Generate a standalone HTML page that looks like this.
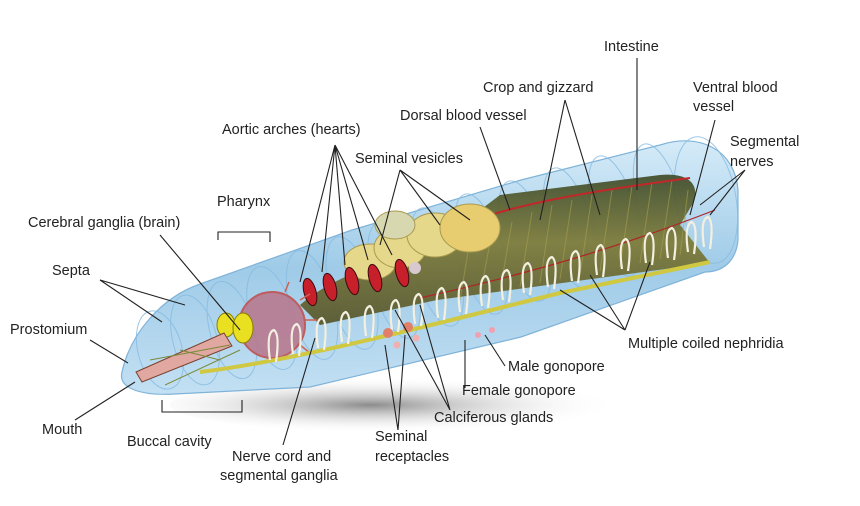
<!DOCTYPE html>
<html><head><meta charset="utf-8"><style>
html,body{margin:0;padding:0;background:#fff;}
svg{display:block;}
text{font-family:"Liberation Sans","DejaVu Sans",sans-serif;font-size:14.5px;fill:#222;}
</style></head><body>
<svg width="860" height="506" viewBox="0 0 860 506" xmlns="http://www.w3.org/2000/svg">
<defs>
<radialGradient id="sh" cx="40%" cy="50%" r="50%"><stop offset="0" stop-color="#777" stop-opacity="0.85"/><stop offset="1" stop-color="#fff" stop-opacity="0"/></radialGradient>
<linearGradient id="bd" x1="0" y1="0" x2="0" y2="1"><stop offset="0" stop-color="#d5ebf8"/><stop offset="0.5" stop-color="#9fcbe8"/><stop offset="1" stop-color="#c3e0f3"/></linearGradient>
<linearGradient id="gut" x1="0" y1="0" x2="0" y2="1"><stop offset="0" stop-color="#3e4a28"/><stop offset="0.45" stop-color="#7d7a36"/><stop offset="1" stop-color="#56552a"/></linearGradient>
</defs>
<ellipse cx="420" cy="405" rx="250" ry="28" fill="url(#sh)"/>
<!-- body -->
<path d="M122,372 C130,335 160,298 200,284 L352,230 L521,180 L660,145 C700,132 735,150 738,190 L738,240 C736,262 722,272 705,272 L521,337 L310,387 L175,394 C140,396 118,388 122,372 Z" fill="url(#bd)" stroke="#7fb3d8" stroke-width="1.2"/>
<g fill="none" stroke="#86bbe0" stroke-width="1" opacity="0.8">
<ellipse cx="160" cy="350" rx="22" ry="40" transform="rotate(-15 160 350)"/>
<ellipse cx="195" cy="340" rx="22" ry="46" transform="rotate(-15 195 340)"/>
<ellipse cx="232" cy="330" rx="22" ry="50" transform="rotate(-15 232 330)"/>
<ellipse cx="272" cy="318" rx="22" ry="53" transform="rotate(-15 272 318)"/>
<ellipse cx="312" cy="305" rx="22" ry="56" transform="rotate(-15 312 305)"/>
<ellipse cx="352" cy="293" rx="22" ry="58" transform="rotate(-15 352 293)"/>
<ellipse cx="394" cy="280" rx="22" ry="60" transform="rotate(-15 394 280)"/>
<ellipse cx="437" cy="267" rx="22" ry="61" transform="rotate(-15 437 267)"/>
<ellipse cx="481" cy="254" rx="22" ry="62" transform="rotate(-15 481 254)"/>
<ellipse cx="525" cy="241" rx="22" ry="62" transform="rotate(-15 525 241)"/>
<ellipse cx="570" cy="228" rx="22" ry="62" transform="rotate(-15 570 228)"/>
<ellipse cx="615" cy="216" rx="22" ry="62" transform="rotate(-15 615 216)"/>
<ellipse cx="660" cy="204" rx="22" ry="62" transform="rotate(-15 660 204)"/>
<ellipse cx="706" cy="200" rx="30" ry="64" transform="rotate(-10 706 200)"/>
</g>
<!-- gut -->
<path d="M300,305 C330,278 380,262 430,248 L500,195 L660,175 C695,172 700,190 692,205 L680,225 L710,263 L437,300 L320,325 Z" fill="url(#gut)" opacity="0.92"/>
<g stroke="#a8a050" stroke-width="1" opacity="0.6">
<path d="M460,300 L470,240 M480,295 L492,232 M500,291 L512,222 M520,287 L532,212 M540,283 L552,205 M560,279 L572,200 M580,275 L592,195 M600,271 L612,190 M620,267 L632,186 M640,263 L652,182 M660,259 L672,180 M680,255 L688,190"/>
</g>
<path d="M490,215 C540,200 600,190 690,178" stroke="#c0282a" stroke-width="2" fill="none"/>
<path d="M420,298 C500,280 600,255 715,210" stroke="#b02525" stroke-width="1.2" fill="none"/>
<!-- vesicles -->
<g fill="#e6d88a" stroke="#a89a50" stroke-width="1">
<ellipse cx="370" cy="262" rx="26" ry="18"/>
<ellipse cx="400" cy="248" rx="26" ry="20"/>
<ellipse cx="435" cy="235" rx="28" ry="22"/>
<ellipse cx="470" cy="228" rx="30" ry="24" fill="#e8cc70"/>
<ellipse cx="395" cy="225" rx="20" ry="14" fill="#d8d8b0"/>
</g>
<!-- aortic arches -->
<g fill="#c8202a" stroke="#3a0a10" stroke-width="1">
<ellipse cx="310" cy="292" rx="6" ry="14" transform="rotate(-15 310 292)"/>
<ellipse cx="330" cy="287" rx="6" ry="14" transform="rotate(-15 330 287)"/>
<ellipse cx="352" cy="281" rx="6" ry="14" transform="rotate(-15 352 281)"/>
<ellipse cx="375" cy="278" rx="6" ry="14" transform="rotate(-15 375 278)"/>
<ellipse cx="402" cy="273" rx="6" ry="14" transform="rotate(-15 402 273)"/>
</g>
<circle cx="415" cy="268" r="6" fill="#d8c8d0"/>
<!-- pharynx -->
<circle cx="272" cy="325" r="33" fill="#b87a90" stroke="#c05050" stroke-width="2" opacity="0.9"/>
<g stroke="#d06050" stroke-width="1.5"><path d="M300,300 l10,-6 M305,320 l12,0 M300,345 l10,8 M285,292 l4,-10"/></g>
<!-- brain -->
<ellipse cx="226" cy="325" rx="9" ry="12" fill="#e8e020" stroke="#8a8000"/>
<ellipse cx="243" cy="328" rx="10" ry="15" fill="#e8e020" stroke="#8a8000"/>
<!-- buccal tube -->
<path d="M136,372 L224,333 L232,346 L142,382 Z" fill="#e0a8a0" stroke="#7a4030"/>
<g stroke="#7a8a3a" stroke-width="1" fill="none"><path d="M150,360 L230,345 M165,385 L240,350 M180,350 L220,360"/></g>
<!-- nerve cord -->
<path d="M200,372 C300,360 450,320 560,293 L710,262" stroke="#cfc840" stroke-width="4" fill="none"/>
<!-- nephridia -->
<g fill="none" stroke="#f4f0e0" stroke-width="2.2">
<path d="M270,360 q-4,-28 4,-30 q6,4 2,32"/><path d="M293,354 q-4,-28 4,-30 q6,4 2,32"/>
<path d="M318,348 q-4,-28 4,-30 q6,4 2,32"/><path d="M342,342 q-4,-28 4,-30 q6,4 2,32"/>
<path d="M366,336 q-4,-28 4,-30 q6,4 2,32"/><path d="M392,330 q-4,-28 4,-30 q6,4 2,32"/>
<path d="M415,324 q-4,-28 4,-30 q6,4 2,32"/><path d="M438,318 q-4,-28 4,-30 q6,4 2,32"/>
<path d="M460,312 q-4,-28 4,-30 q6,4 2,32"/><path d="M482,306 q-4,-28 4,-30 q6,4 2,32"/>
<path d="M503,300 q-4,-28 4,-30 q6,4 2,32"/><path d="M524,293 q-4,-28 4,-30 q6,4 2,32"/>
<path d="M548,287 q-4,-28 4,-30 q6,4 2,32"/><path d="M572,281 q-4,-28 4,-30 q6,4 2,32"/>
<path d="M597,275 q-4,-28 4,-30 q6,4 2,32"/><path d="M622,269 q-4,-28 4,-30 q6,4 2,32"/>
<path d="M646,263 q-4,-28 4,-30 q6,4 2,32"/><path d="M668,258 q-4,-28 4,-30 q6,4 2,32"/>
<path d="M688,252 q-4,-28 4,-30 q6,4 2,32"/><path d="M704,247 q-4,-28 4,-30 q6,4 2,32"/>
</g>
<circle cx="388" cy="333" r="5" fill="#e0806a"/><circle cx="408" cy="327" r="5" fill="#e0806a"/>
<circle cx="397" cy="345" r="3.5" fill="#f0b0b0"/><circle cx="416" cy="338" r="3.5" fill="#f0b0b0"/>
<circle cx="478" cy="335" r="3" fill="#f0a0b0"/><circle cx="492" cy="330" r="3" fill="#f0a0b0"/>
<!-- leader lines -->
<g stroke="#222" stroke-width="1.1" fill="none">
<path d="M637,58 L637,190"/>
<path d="M565,100 L540,220 M565,100 L600,215"/>
<path d="M715,120 L690,215"/>
<path d="M745,170 L700,205 M745,170 L710,215"/>
<path d="M480,127 L510,210"/>
<path d="M335,145 L322,272 M335,145 L345,265 M335,145 L368,260 M335,145 L392,255 M335,145 L300,282"/>
<path d="M400,170 L440,225 M400,170 L380,245 M400,170 L470,220"/>
<path d="M218,240 L218,232 L270,232 L270,242"/>
<path d="M160,235 L230,318 M160,235 L240,330"/>
<path d="M100,280 L185,305 M100,280 L162,322"/>
<path d="M90,340 L128,363"/>
<path d="M625,330 L560,290 M625,330 L590,275 M625,330 L650,262"/>
<path d="M505,366 L485,335"/>
<path d="M465,388 L465,340"/>
<path d="M75,420 L135,382"/>
<path d="M450,410 L420,305 M450,410 L395,310"/>
<path d="M162,400 L162,412 L242,412 L242,400"/>
<path d="M398,430 L405,335 M398,430 L385,345"/>
<path d="M283,445 L315,338"/>
</g>
<text x="604" y="51">Intestine</text>
<text x="483" y="92">Crop and gizzard</text>
<text x="693" y="92">Ventral blood</text>
<text x="693" y="111">vessel</text>
<text x="400" y="120">Dorsal blood vessel</text>
<text x="730" y="146">Segmental</text>
<text x="730" y="166">nerves</text>
<text x="222" y="134">Aortic arches (hearts)</text>
<text x="355" y="163">Seminal vesicles</text>
<text x="217" y="206">Pharynx</text>
<text x="28" y="227">Cerebral ganglia (brain)</text>
<text x="52" y="275">Septa</text>
<text x="10" y="334">Prostomium</text>
<text x="628" y="348">Multiple coiled nephridia</text>
<text x="508" y="371">Male gonopore</text>
<text x="462" y="395">Female gonopore</text>
<text x="42" y="434">Mouth</text>
<text x="434" y="422">Calciferous glands</text>
<text x="127" y="446">Buccal cavity</text>
<text x="375" y="441">Seminal</text>
<text x="375" y="461">receptacles</text>
<text x="232" y="461">Nerve cord and</text>
<text x="220" y="480">segmental ganglia</text>
</svg>
</body></html>
